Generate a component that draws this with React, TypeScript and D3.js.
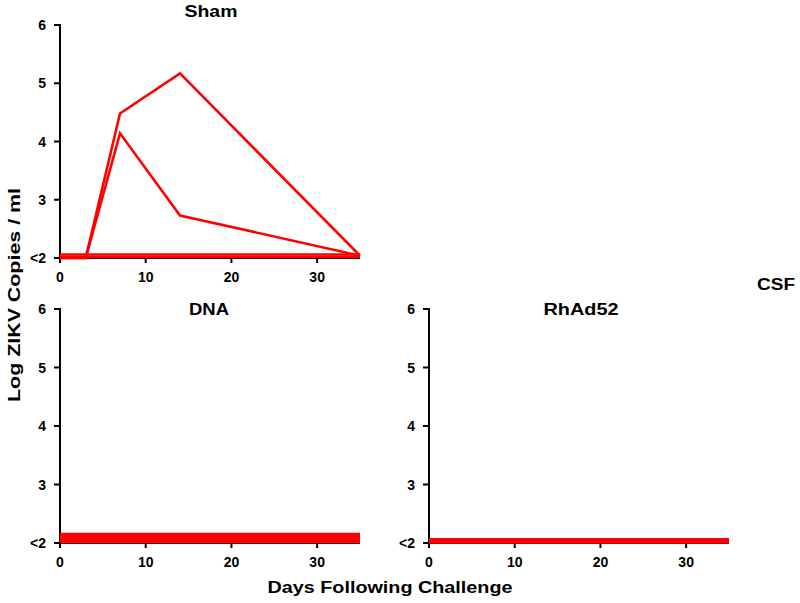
import React from "react";
import * as d3 from "d3";

const days = [0, 3, 7, 14, 35];
const xTicks = [0, 10, 20, 30];
const yTicks = [2, 3, 4, 5, 6];
const yTickLabels = ["<2", "3", "4", "5", "6"];

// Sham animals (log ZIKV copies/ml at each day)
const shamA = [2.0, 2.0, 4.48, 5.17, 2.04];
const shamB = [2.0, 2.0, 4.14, 2.73, 2.04];
const shamC = [2.02, 2.02, 2.02, 2.02, 2.02];
const shamD = [2.06, 2.06, 2.06, 2.06, 2.06];
const shamSeries = [shamA, shamB, shamC, shamD];

// DNA animals (all below limit of detection)
const dnaA = [2.03, 2.03, 2.03, 2.03, 2.03];
const dnaB = [2.06, 2.06, 2.06, 2.06, 2.06];
const dnaC = [2.09, 2.09, 2.09, 2.09, 2.09];
const dnaD = [2.12, 2.12, 2.12, 2.12, 2.12];
const dnaE = [2.14, 2.14, 2.14, 2.14, 2.14];
const dnaSeries = [dnaA, dnaB, dnaC, dnaD, dnaE];

// RhAd52 animals (all below limit of detection)
const rhA = [2.02, 2.02, 2.02, 2.02, 2.02];
const rhB = [2.05, 2.05, 2.05, 2.05, 2.05];
const rhSeries = [rhA, rhB];

const FONT = "'Liberation Sans', Arial, sans-serif";
const RED = "#ff0000";

type PanelProps = {
  title: string;
  titleX: number;
  titleY: number;
  titleLen: number;
  series: number[][];
  x0: number;
  x1: number;
  yTop: number;
  yBot: number;
  lineW: number;
};

function Panel({ title, titleX, titleY, titleLen, series, x0, x1, yTop, yBot, lineW }: PanelProps) {
  const x = d3.scaleLinear().domain([0, 35]).range([x0, x1]);
  const y = d3.scaleLinear().domain([2, 6]).range([yBot, yTop]);
  const line = d3
    .line<number>()
    .x((_, i) => x(days[i]))
    .y((v) => y(v));
  return (
    <g>
      <text
        x={titleX}
        y={titleY}
        textAnchor="middle"
        fontFamily={FONT}
        fontWeight="bold"
        fontSize={16}
        textLength={titleLen}
        lengthAdjust="spacingAndGlyphs"
      >
        {title}
      </text>
      {/* y axis */}
      <line x1={x0} x2={x0} y1={yTop - 1} y2={yBot + 1} stroke="#000" strokeWidth={2} />
      {yTicks.map((t, i) => (
        <g key={t}>
          <line x1={x0 - 6} x2={x0} y1={y(t)} y2={y(t)} stroke="#000" strokeWidth={2} />
          <text
            x={x0 - 14}
            y={y(t)}
            dy="0.36em"
            textAnchor="end"
            fontFamily={FONT}
            fontWeight="bold"
            fontSize={14}
          >
            {yTickLabels[i]}
          </text>
        </g>
      ))}
      {/* x axis */}
      <line x1={x0} x2={x(35)} y1={yBot} y2={yBot} stroke="#000" strokeWidth={2} />
      {xTicks.map((t) => (
        <g key={t}>
          <line x1={x(t)} x2={x(t)} y1={yBot} y2={yBot + 5} stroke="#000" strokeWidth={2} />
          <text
            x={x(t)}
            y={yBot + 24}
            textAnchor="middle"
            fontFamily={FONT}
            fontWeight="bold"
            fontSize={14}
          >
            {t}
          </text>
        </g>
      ))}
      {series.map((s, i) => (
        <path
          key={i}
          d={line(s) || ""}
          fill="none"
          stroke={RED}
          strokeWidth={lineW}
          strokeLinejoin="miter"
          strokeLinecap="butt"
        />
      ))}
    </g>
  );
}

export default function App() {
  return (
    <svg
      width={800}
      height={603}
      style={{ position: "absolute", left: 0, top: 0, background: "#fff" }}
    >
      <rect x={0} y={0} width={800} height={603} fill="#fff" />
      <Panel title="Sham" titleX={211} titleY={17} titleLen={53} series={shamSeries} x0={60} x1={360} yTop={25} yBot={258} lineW={2.6} />
      <Panel title="DNA" titleX={209} titleY={315} titleLen={40} series={dnaSeries} x0={60} x1={360} yTop={309} yBot={543} lineW={4} />
      <Panel title="RhAd52" titleX={581} titleY={315} titleLen={75} series={rhSeries} x0={429} x1={729} yTop={309} yBot={543} lineW={4} />
      <text
        x={776}
        y={290}
        textAnchor="middle"
        fontFamily={FONT}
        fontWeight="bold"
        fontSize={16}
        textLength={38}
        lengthAdjust="spacingAndGlyphs"
      >
        CSF
      </text>
      <text
        transform="translate(20,295) rotate(-90)"
        textAnchor="middle"
        fontFamily={FONT}
        fontWeight="bold"
        fontSize={17}
        textLength={214}
        lengthAdjust="spacingAndGlyphs"
      >
        Log ZIKV Copies / ml
      </text>
      <text
        x={390}
        y={593}
        textAnchor="middle"
        fontFamily={FONT}
        fontWeight="bold"
        fontSize={16}
        textLength={245}
        lengthAdjust="spacingAndGlyphs"
      >
        Days Following  Challenge
      </text>
    </svg>
  );
}
